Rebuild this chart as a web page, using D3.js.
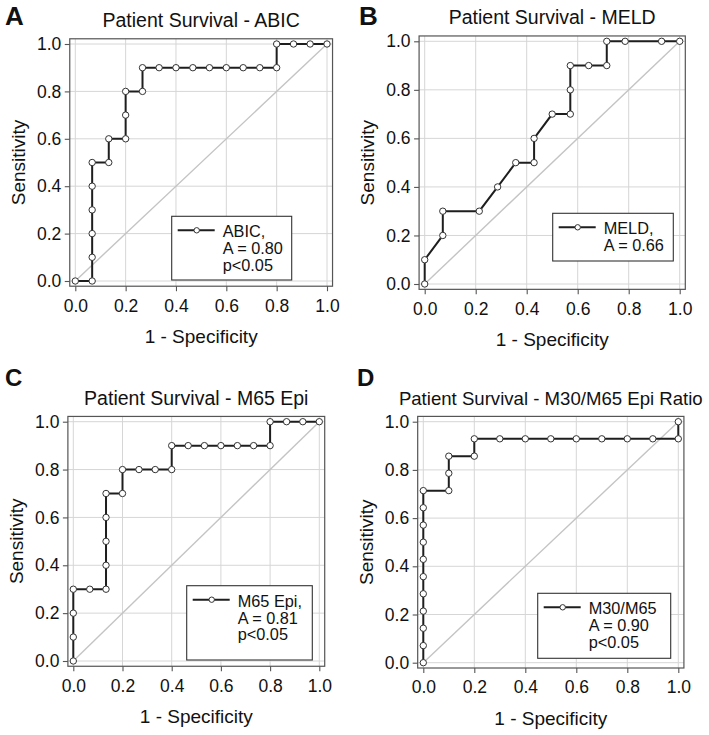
<!DOCTYPE html>
<html><head><meta charset="utf-8">
<script src="https://cdn.jsdelivr.net/npm/d3@7"></script>
<style>
body{margin:0;background:#fff}
svg{display:block}
text{font-family:"Liberation Sans",Arial,Helvetica,sans-serif;fill:#111}
</style>
</head><body>
<svg id="c" width="709" height="735"></svg>
<script>
// ---------- data ----------
const tickValues = [0, 0.2, 0.4, 0.6, 0.8, 1.0];
const tickLabels = ["0.0", "0.2", "0.4", "0.6", "0.8", "1.0"];
const panelLetters = ["A", "B", "C", "D"];
const panelTitles = ["Patient Survival - ABIC", "Patient Survival - MELD",
                     "Patient Survival - M65 Epi", "Patient Survival - M30/M65 Epi Ratio"];
const xTitle = "1 - Specificity";
const yTitle = "Sensitivity";
const legendLabels = [
  ["ABIC,", "A = 0.80", "p<0.05"],
  ["MELD,", "A = 0.66"],
  ["M65 Epi,", "A = 0.81", "p<0.05"],
  ["M30/M65", "A = 0.90", "p<0.05"]
];

const abicX = [0, 0.067, 0.067, 0.067, 0.067, 0.067, 0.067, 0.133, 0.133, 0.2, 0.2, 0.2, 0.267, 0.267,
               0.333, 0.4, 0.467, 0.533, 0.6, 0.667, 0.733, 0.8, 0.8, 0.867, 0.933, 1.0];
const abicY = [0, 0, 0.1, 0.2, 0.3, 0.4, 0.5, 0.5, 0.6, 0.6, 0.7, 0.8, 0.8, 0.9,
               0.9, 0.9, 0.9, 0.9, 0.9, 0.9, 0.9, 0.9, 1.0, 1.0, 1.0, 1.0];

const meldX = [0, 0, 0.071, 0.071, 0.214, 0.286, 0.357, 0.429, 0.429, 0.5, 0.571, 0.571, 0.571,
               0.643, 0.714, 0.714, 0.786, 0.929, 1.0];
const meldY = [0, 0.1, 0.2, 0.3, 0.3, 0.4, 0.5, 0.5, 0.6, 0.7, 0.7, 0.8, 0.9,
               0.9, 0.9, 1.0, 1.0, 1.0, 1.0];

const m65X = [0, 0, 0, 0, 0.067, 0.133, 0.133, 0.133, 0.133, 0.133, 0.2, 0.2, 0.267, 0.333, 0.4, 0.4,
              0.467, 0.533, 0.6, 0.667, 0.733, 0.8, 0.8, 0.867, 0.933, 1.0];
const m65Y = [0, 0.1, 0.2, 0.3, 0.3, 0.3, 0.4, 0.5, 0.6, 0.7, 0.7, 0.8, 0.8, 0.8, 0.8, 0.9,
              0.9, 0.9, 0.9, 0.9, 0.9, 0.9, 1.0, 1.0, 1.0, 1.0];

const ratioX = [0, 0, 0, 0, 0, 0, 0, 0, 0, 0, 0, 0.1, 0.1, 0.1, 0.2, 0.2,
                0.3, 0.4, 0.5, 0.6, 0.7, 0.8, 0.9, 1.0, 1.0];
const ratioY = [0, 0.071, 0.143, 0.214, 0.286, 0.357, 0.429, 0.5, 0.571, 0.643, 0.714, 0.714, 0.786, 0.857, 0.857, 0.929,
                0.929, 0.929, 0.929, 0.929, 0.929, 0.929, 0.929, 0.929, 1.0];

const seriesX = [abicX, meldX, m65X, ratioX];
const seriesY = [abicY, meldY, m65Y, ratioY];

// ---------- layout ----------
const layout = [
  {x0: 75.3, x1: 327.0, y0: 281.0, y1: 44.0, letter: [5, 25, 26], legend: [171.7, 216.3, 120, 63.7], title: 19.5},
  {x0: 424.7, x1: 679.7, y0: 284.0, y1: 41.3, letter: [359, 25, 26], legend: [552.7, 213.3, 120.6, 47.7], title: 19.5},
  {x0: 73.3, x1: 319.3, y0: 661.0, y1: 421.7, letter: [5, 386, 24], legend: [186.7, 585.7, 125.6, 74.3], title: 19.5},
  {x0: 423.3, x1: 678.3, y0: 662.7, y1: 421.7, letter: [357, 386, 24], legend: [537.7, 593.3, 133, 65], title: 18.6}
];
const pad = 0.022;

const svg = d3.select("#c");

layout.forEach((L, i) => {
  const x = d3.scaleLinear().domain([0, 1]).range([L.x0, L.x1]);
  const y = d3.scaleLinear().domain([0, 1]).range([L.y0, L.y1]);
  const fl = x(-pad), fr = x(1 + pad), ft = y(1 + pad), fb = y(-pad);
  const g = svg.append("g");

  // grid
  g.selectAll(".gx").data(tickValues).join("line")
    .attr("x1", d => x(d)).attr("x2", d => x(d)).attr("y1", ft).attr("y2", fb)
    .attr("stroke", "#d6d6d6").attr("stroke-width", 1);
  g.selectAll(".gy").data(tickValues).join("line")
    .attr("y1", d => y(d)).attr("y2", d => y(d)).attr("x1", fl).attr("x2", fr)
    .attr("stroke", "#d6d6d6").attr("stroke-width", 1);

  // diagonal
  g.append("line").attr("x1", x(0)).attr("y1", y(0)).attr("x2", x(1)).attr("y2", y(1))
    .attr("stroke", "#c4c4c4").attr("stroke-width", 1.4);

  // frame
  g.append("rect").attr("x", fl).attr("y", ft).attr("width", fr - fl).attr("height", fb - ft)
    .attr("fill", "none").attr("stroke", "#555").attr("stroke-width", 1.2);

  // axes
  const ax = d3.axisBottom(x).tickValues(tickValues).tickFormat((d, k) => tickLabels[k])
    .tickSizeInner(5).tickSizeOuter(0).tickPadding(8);
  const gx = g.append("g").attr("transform", `translate(0,${fb})`).call(ax);
  const ay = d3.axisLeft(y).tickValues(tickValues).tickFormat((d, k) => tickLabels[k])
    .tickSizeInner(5).tickSizeOuter(0).tickPadding(3.5);
  const gy = g.append("g").attr("transform", `translate(${fl},0)`).call(ay);
  [gx, gy].forEach(a => {
    a.select(".domain").remove();
    a.selectAll(".tick line").attr("stroke", "#555").attr("stroke-width", 1.1);
    a.selectAll(".tick text").attr("font-size", "17.5px").attr("fill", "#151515")
      .style("font-family", '"Liberation Sans",Arial,sans-serif');
  });

  // ROC line
  const pts = seriesX[i].map((v, k) => [v, seriesY[i][k]]);
  g.append("path").datum(pts)
    .attr("d", d3.line().x(d => x(d[0])).y(d => y(d[1])))
    .attr("fill", "none").attr("stroke", "#1e1e1e").attr("stroke-width", 2);
  g.selectAll(".pt").data(pts).join("circle")
    .attr("cx", d => x(d[0])).attr("cy", d => y(d[1])).attr("r", 3.2)
    .attr("fill", "#fff").attr("stroke", "#333").attr("stroke-width", 1);

  // titles
  g.append("text").attr("x", (L.x0 + L.x1) / 2).attr("y", ft - 11.5)
    .attr("text-anchor", "middle").attr("font-size", L.title + "px").text(panelTitles[i]);
  g.append("text").attr("x", (L.x0 + L.x1) / 2).attr("y", fb + 56.5)
    .attr("text-anchor", "middle").attr("font-size", "19px").text(xTitle);
  g.append("text").attr("transform", `translate(${fl - 45},${(L.y0 + L.y1) / 2}) rotate(-90)`)
    .attr("text-anchor", "middle").attr("font-size", "19px").text(yTitle);

  // panel letter
  g.append("text").attr("x", L.letter[0]).attr("y", L.letter[1])
    .attr("font-size", L.letter[2] + "px").attr("font-weight", "bold").attr("fill", "#000")
    .text(panelLetters[i]);

  // legend
  const [lx, ly, lw, lh] = L.legend;
  g.append("rect").attr("x", lx).attr("y", ly).attr("width", lw).attr("height", lh)
    .attr("fill", "#fff").attr("stroke", "#333").attr("stroke-width", 1.1);
  g.append("line").attr("x1", lx + 6).attr("x2", lx + 43).attr("y1", ly + 14).attr("y2", ly + 14)
    .attr("stroke", "#1e1e1e").attr("stroke-width", 2);
  g.append("circle").attr("cx", lx + 25).attr("cy", ly + 14).attr("r", 2.7)
    .attr("fill", "#fff").attr("stroke", "#333").attr("stroke-width", 1);
  legendLabels[i].forEach((t, k) => {
    g.append("text").attr("x", lx + 51).attr("y", ly + 21 + k * 16.8)
      .attr("font-size", "16.3px").text(t);
  });
});
</script>
</body></html>
